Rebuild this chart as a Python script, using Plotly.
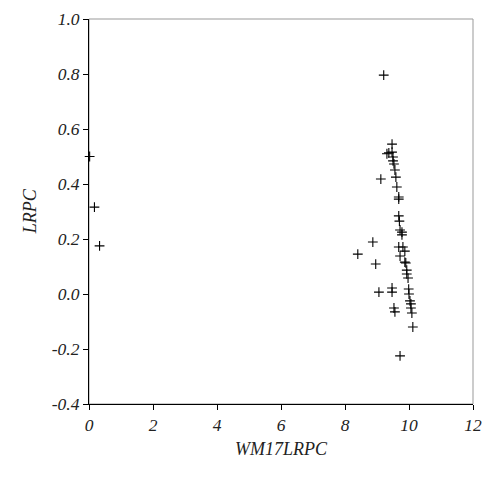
import plotly.graph_objects as go

wm17lrpc = [0.02, 0.17, 0.33,
            9.21, 9.12, 8.40, 8.87, 8.96, 9.06, 9.47, 9.47, 9.53, 9.56, 9.72,
            9.47, 9.37, 9.47, 9.50, 9.50, 9.53, 9.56, 9.59, 9.62, 9.68, 9.68,
            9.68, 9.70, 9.72, 9.78, 9.78, 9.68, 9.81, 9.87, 9.72, 9.87, 9.90,
            9.93, 9.93, 9.97, 9.99, 10.0, 10.03, 10.06, 10.06, 10.09, 10.12, 9.31]
lrpc = [0.50, 0.316, 0.175,
        0.796, 0.418, 0.145, 0.189, 0.109, 0.007, 0.022, 0.007, -0.051, -0.065, -0.225,
        0.545, 0.513, 0.516, 0.498, 0.484, 0.473, 0.451, 0.425, 0.389, 0.353, 0.345,
        0.284, 0.265, 0.233, 0.225, 0.215, 0.171, 0.171, 0.156, 0.138, 0.116, 0.113,
        0.087, 0.073, 0.058, 0.018, 0.0, -0.025, -0.036, -0.051, -0.069, -0.12, 0.51]

x_ticks = [0, 2, 4, 6, 8, 10, 12]
y_ticks = [-0.4, -0.2, 0.0, 0.2, 0.4, 0.6, 0.8, 1.0]

font_family = "Liberation Serif"

fig = go.Figure(go.Scatter(
    x=wm17lrpc, y=lrpc, mode="markers", cliponaxis=False,
    marker=dict(symbol="cross-thin", size=7, line=dict(color="black", width=1.1)),
    showlegend=False,
))

fig.add_shape(type="rect", xref="paper", yref="paper", x0=0, y0=0, x1=1, y1=1,
              line=dict(color="#999999", width=1), layer="below")

axis_common = dict(showgrid=False, zeroline=False, showline=True, linecolor="black",
                   linewidth=1, ticks="outside", ticklen=5, tickcolor="black", automargin=False,
                   tickfont=dict(family=font_family, size=17.5, color="#222"))

fig.update_xaxes(range=[0, 12], tickvals=x_ticks, ticktext=[f"<i>{v}</i>" for v in x_ticks],
                 **axis_common)
fig.update_yaxes(range=[-0.4, 1.0], tickvals=y_ticks, ticktext=[f"<i>{v:.1f}</i>" for v in y_ticks],
                 **axis_common)

fig.add_annotation(text="<i>WM17LRPC</i>", xref="paper", yref="paper", x=0.5, y=-0.118,
                   xanchor="center", yanchor="middle", showarrow=False,
                   font=dict(family=font_family, size=18, color="#222"))
fig.add_annotation(text="<i>LRPC</i>", xref="paper", yref="paper", x=-0.154, y=0.5,
                   xanchor="center", yanchor="middle", showarrow=False, textangle=-90,
                   font=dict(family=font_family, size=18, color="#222"))

fig.update_layout(
    width=485, height=491,
    margin=dict(l=89, r=12, t=19, b=87),
    plot_bgcolor="white", paper_bgcolor="white",
    font=dict(family=font_family),
)

fig.write_html("out.html", config={"displayModeBar": False},
               post_script="document.body.style.margin='0';")
